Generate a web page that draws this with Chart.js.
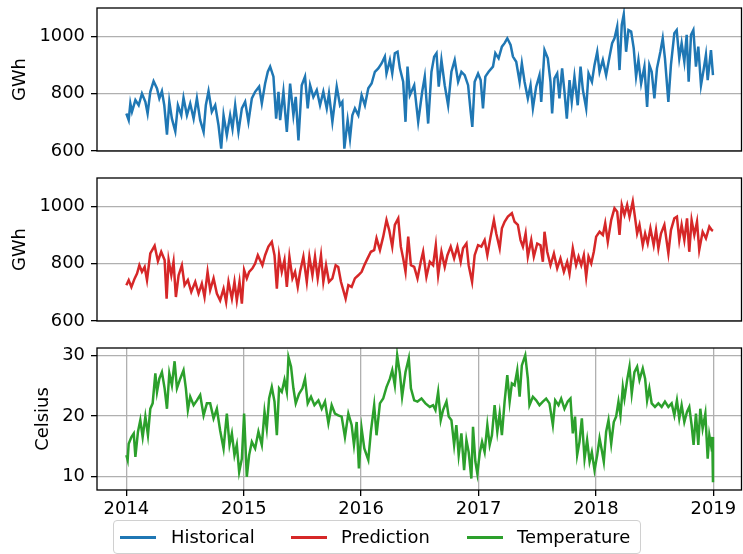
<!DOCTYPE html>
<html lang="en">
<head>
  <meta charset="UTF-8" />
  <title>Demand and temperature</title>
  <script src="https://cdn.jsdelivr.net/npm/chart.js"></script>
  <style>
    body { margin: 0; background: #fff; font-family: "DejaVu Sans", sans-serif; }
    #wrap { position: relative; width: 743px; height: 554px; }
    #wrap canvas { position: absolute; left: 0; }
    #legend { position: absolute; left: 113px; top: 520px; width: 528px; height: 34px;
              box-sizing: border-box; border: 1px solid #d0d0d0; border-radius: 4px; }
    .swatch { position: absolute; top: 15px; width: 36px; height: 2.6px; }
    .ltext { position: absolute; top: 5px; font-size: 17.9px; line-height: 21px; color: #000; white-space: nowrap; }
  </style>
</head>
<body>
<div id="wrap">
  <canvas id="histChart" width="743" height="165" style="top:0"></canvas>
  <canvas id="predChart" width="743" height="165" style="top:170px"></canvas>
  <canvas id="tempChart" width="743" height="184" style="top:340px"></canvas>
  <div id="legend">
    <div class="swatch" style="left:6px;background:#1f77b4"></div><div class="ltext" style="left:57px">Historical</div>
    <div class="swatch" style="left:177px;background:#d62728"></div><div class="ltext" style="left:227px">Prediction</div>
    <div class="swatch" style="left:353px;background:#2ca02c"></div><div class="ltext" style="left:403px">Temperature</div>
  </div>
</div>

<script>
  // x values are years since 1 Jan 2014
  const yearTicks = [0, 1, 2, 3, 4, 5];
  const yearLabels = ['2014', '2015', '2016', '2017', '2018', '2019'];
  const gwhTicks = [600, 800, 1000];
  const tempTicks = [10, 20, 30];

  const histT = [0.000,0.020,0.034,0.048,0.077,0.105,0.133,0.162,0.181,0.204,0.232,0.261,0.281,0.303,0.323,0.346,0.366,0.388,0.417,0.439,
    0.468,0.487,0.516,0.544,0.573,0.601,0.629,0.658,0.677,0.700,0.728,0.757,0.785,0.808,0.828,0.856,0.884,0.904,0.927,0.955,
    0.984,1.012,1.040,1.069,1.097,1.131,1.154,1.182,1.205,1.225,1.253,1.276,1.296,1.310,1.338,1.367,1.395,1.423,1.443,1.466,
    1.494,1.522,1.545,1.565,1.593,1.622,1.650,1.678,1.707,1.726,1.755,1.792,1.820,1.840,1.857,1.885,1.905,1.925,1.947,1.976,
    2.004,2.032,2.061,2.089,2.117,2.146,2.174,2.202,2.216,2.245,2.265,2.287,2.310,2.330,2.358,2.378,2.395,2.415,2.452,2.486,
    2.520,2.542,2.571,2.599,2.622,2.642,2.661,2.684,2.712,2.741,2.769,2.797,2.826,2.854,2.882,2.911,2.933,2.947,2.967,2.996,
    3.018,3.038,3.058,3.086,3.123,3.143,3.171,3.199,3.222,3.245,3.273,3.293,3.321,3.350,3.369,3.392,3.420,3.443,3.463,3.491,
    3.519,3.534,3.562,3.590,3.613,3.627,3.647,3.670,3.689,3.712,3.732,3.752,3.775,3.794,3.817,3.845,3.869,3.889,3.917,3.937,
    3.966,3.988,4.011,4.031,4.059,4.087,4.116,4.138,4.158,4.181,4.201,4.220,4.237,4.257,4.277,4.300,4.322,4.342,4.362,4.385,
    4.413,4.436,4.455,4.475,4.498,4.520,4.549,4.569,4.588,4.617,4.639,4.668,4.688,4.710,4.730,4.753,4.773,4.790,4.810,4.830,
    4.852,4.872,4.895,4.917,4.937,4.952,4.980,4.997];
  const histV = [731,708,766,737,778,760,801,772,731,807,844,819,784,809,760,657,772,713,669,760,
    725,786,725,766,713,784,708,667,760,809,737,760,690,608,725,655,725,678,760,667,
    749,772,702,784,807,825,766,836,877,895,860,713,807,708,807,667,836,725,789,637,
    830,860,749,830,789,813,760,807,749,801,702,825,760,772,608,708,643,725,749,725,
    795,760,819,836,877,889,906,930,871,918,871,942,947,889,842,702,895,795,830,702,
    807,860,696,877,930,942,825,918,830,760,877,918,842,877,865,830,737,684,842,871,
    848,749,860,877,895,942,924,965,977,994,971,930,912,842,906,842,784,830,749,825,
    865,772,953,924,842,731,854,871,784,889,807,713,848,772,860,760,895,813,749,871,
    842,901,947,877,918,865,930,977,994,1035,883,1041,1078,947,1023,1018,959,860,918,836,
    895,754,901,877,784,889,947,994,924,772,901,1012,1023,924,977,912,1006,842,1006,1023,
    895,965,830,883,936,848,953,865];

  const predT = [0.000,0.020,0.043,0.071,0.091,0.111,0.133,0.156,0.176,0.204,0.241,0.269,0.297,0.326,0.343,0.360,0.383,0.402,0.422,0.445,
    0.473,0.496,0.524,0.553,0.587,0.615,0.643,0.666,0.692,0.714,0.743,0.771,0.799,0.828,0.850,0.870,0.899,0.921,0.941,0.964,
    0.984,1.003,1.026,1.046,1.074,1.097,1.120,1.159,1.182,1.210,1.239,1.262,1.282,1.301,1.324,1.347,1.367,1.389,1.415,1.437,
    1.460,1.480,1.508,1.537,1.559,1.585,1.607,1.630,1.658,1.678,1.701,1.726,1.755,1.783,1.805,1.828,1.848,1.868,1.891,1.919,
    1.947,1.976,2.004,2.027,2.055,2.083,2.111,2.131,2.160,2.188,2.216,2.239,2.265,2.287,2.316,2.338,2.358,2.378,2.401,2.424,
    2.452,2.480,2.508,2.528,2.556,2.585,2.613,2.636,2.656,2.684,2.712,2.735,2.763,2.792,2.820,2.848,2.868,2.897,2.916,2.945,
    2.967,2.996,3.024,3.052,3.075,3.103,3.131,3.151,3.180,3.199,3.222,3.250,3.284,3.307,3.335,3.358,3.378,3.401,3.420,3.449,
    3.471,3.500,3.528,3.548,3.562,3.585,3.613,3.642,3.670,3.698,3.727,3.755,3.775,3.803,3.831,3.852,3.875,3.897,3.917,3.937,
    3.960,3.982,4.002,4.031,4.059,4.079,4.101,4.130,4.158,4.181,4.201,4.220,4.243,4.266,4.286,4.314,4.334,4.351,4.371,4.399,
    4.419,4.441,4.464,4.492,4.512,4.532,4.554,4.583,4.617,4.639,4.668,4.690,4.710,4.730,4.753,4.776,4.795,4.815,4.838,4.861,
    4.880,4.909,4.937,4.966,4.986,4.997];
  const predV = [725,743,719,749,766,795,772,789,743,836,863,809,842,813,678,813,760,807,684,760,
    795,725,743,702,737,696,731,684,772,708,749,696,672,713,667,737,678,737,672,737,
    661,778,749,772,784,801,830,795,830,860,877,830,713,830,772,813,719,825,749,772,
    719,772,825,737,825,760,825,749,830,737,795,737,749,795,789,737,708,678,725,719,
    749,760,772,795,819,842,848,889,848,895,953,918,860,936,959,860,819,772,895,795,
    789,749,807,842,754,807,795,865,760,842,789,830,860,819,860,807,854,871,795,737,
    830,865,860,883,830,895,953,906,854,924,947,965,977,947,936,883,860,906,825,883,
    825,871,865,807,912,842,795,836,784,819,772,807,766,854,795,825,795,830,754,825,
    801,842,895,912,901,942,877,953,994,982,901,1006,971,1006,965,1018,959,906,936,865,
    906,871,924,865,918,854,906,936,836,918,959,965,883,936,883,959,842,953,901,947,
    848,912,889,930,918,915];

  const tempT = [0.000,0.011,0.020,0.043,0.063,0.077,0.099,0.119,0.139,0.162,0.184,0.204,0.224,0.247,0.261,0.281,0.303,0.326,0.346,0.366,
    0.388,0.411,0.431,0.459,0.487,0.507,0.524,0.544,0.573,0.601,0.629,0.658,0.686,0.714,0.743,0.771,0.799,0.828,0.856,0.879,
    0.899,0.921,0.941,0.961,0.984,1.003,1.026,1.046,1.069,1.097,1.125,1.154,1.177,1.196,1.216,1.239,1.262,1.282,1.301,1.324,
    1.347,1.367,1.381,1.403,1.423,1.443,1.471,1.500,1.522,1.545,1.573,1.602,1.636,1.664,1.692,1.721,1.749,1.777,1.805,1.834,
    1.862,1.891,1.919,1.939,1.962,1.981,2.004,2.027,2.061,2.083,2.111,2.131,2.160,2.188,2.216,2.245,2.265,2.287,2.307,2.330,
    2.349,2.378,2.406,2.424,2.452,2.480,2.514,2.548,2.585,2.613,2.633,2.656,2.678,2.698,2.727,2.746,2.769,2.792,2.811,2.831,
    2.854,2.877,2.897,2.916,2.939,2.953,2.973,2.990,3.010,3.030,3.052,3.075,3.095,3.114,3.137,3.160,3.180,3.199,3.222,3.245,
    3.265,3.284,3.307,3.330,3.350,3.369,3.398,3.420,3.434,3.463,3.491,3.519,3.548,3.576,3.604,3.633,3.653,3.681,3.704,3.732,
    3.760,3.783,3.803,3.822,3.840,3.860,3.880,3.903,3.925,3.946,3.965,3.988,4.011,4.031,4.050,4.067,4.087,4.107,4.130,4.152,
    4.172,4.192,4.209,4.229,4.243,4.266,4.286,4.305,4.328,4.351,4.371,4.399,4.419,4.436,4.455,4.475,4.503,4.532,4.560,4.588,
    4.617,4.645,4.668,4.690,4.710,4.730,4.753,4.776,4.795,4.815,4.832,4.852,4.872,4.889,4.909,4.932,4.952,4.966,4.980,4.991,
    4.997];
  const tempV = [13.5,12.7,15.4,16.5,17.1,13.2,17.4,19.3,16.5,19.9,16.8,21.2,22.1,27.1,24.0,26.2,27.3,24.6,21.2,27.1,
    25.1,29.1,24.6,26.2,27.6,24.6,21.0,23.2,21.8,22.6,23.5,20.1,22.1,22.1,19.6,21.2,17.6,14.6,20.4,15.2,
    17.1,13.5,15.2,10.7,12.9,20.4,9.9,13.5,15.7,14.6,17.4,15.2,20.7,17.9,22.9,24.8,22.4,16.8,24.6,24.0,
    26.0,24.0,29.8,28.2,24.6,22.1,23.7,24.6,26.2,22.1,23.2,21.8,22.6,21.2,22.4,18.8,21.8,20.4,20.1,19.9,
    16.5,20.4,18.5,15.2,19.0,11.3,17.9,14.6,12.7,17.4,21.8,16.8,22.1,22.9,24.8,26.2,27.6,25.1,30.1,27.1,
    23.2,27.3,29.6,24.6,22.6,22.4,22.9,22.1,21.5,21.8,21.0,24.0,19.3,21.0,22.4,19.9,19.3,15.2,18.5,13.5,
    17.1,11.0,16.0,14.0,9.6,18.2,12.4,10.4,13.8,15.7,14.0,18.5,15.2,16.8,21.8,17.4,20.4,16.8,22.4,26.8,
    22.4,25.4,25.1,27.6,23.2,28.4,30.1,26.2,21.8,23.2,22.6,21.8,22.4,22.9,22.1,18.5,22.6,21.8,22.9,21.2,
    22.4,22.9,17.1,19.9,13.5,15.7,19.6,12.9,16.0,12.4,14.0,11.0,13.5,16.3,14.3,12.4,17.4,19.3,15.4,19.0,
    19.9,22.4,20.1,24.8,22.9,26.0,28.2,23.7,27.3,28.2,26.0,27.9,26.2,22.6,24.6,22.1,21.5,22.1,21.5,22.4,
    21.5,22.1,20.1,22.6,19.6,21.8,19.0,20.7,21.5,18.5,15.2,20.4,15.2,21.2,17.9,20.4,12.9,16.8,15.2,16.5,
    9.0];

  const font = { family: 'DejaVu Sans', size: 17.9 };
  const gridStyle = { color: '#b0b0b0', lineWidth: 1.3, tickColor: '#000', tickWidth: 1.3, tickLength: 6 };

  // matplotlib-like box around each plot area
  const frame = {
    id: 'frame',
    afterDraw(chart) {
      const { ctx, chartArea: a } = chart;
      ctx.save();
      ctx.strokeStyle = '#000';
      ctx.lineWidth = 1.3;
      ctx.strokeRect(a.left, a.top, a.right - a.left, a.bottom - a.top);
      ctx.restore();
    }
  };

  function makeChart(id, t, v, color, yTitle, titlePad, yMin, yMax, yTicks, showX, padBottom) {
    const xScale = {
      type: 'linear', min: -0.25, max: 5.24, display: showX,
      afterBuildTicks: s => { s.ticks = yearTicks.map(y => ({ value: y })); },
      afterFit: s => {
        if (showX) s.height = 34;
        s.paddingLeft = 0; s.paddingRight = 0;
      },
      ticks: {
        autoSkip: false, maxRotation: 0, color: '#000', font, padding: 3,
        callback: val => yearLabels[yearTicks.indexOf(val)]
      },
      grid: gridStyle,
      border: { display: false }
    };
    return new Chart(document.getElementById(id), {
      type: 'line',
      data: {
        datasets: [{
          data: t.map((x, i) => ({ x, y: v[i] })),
          borderColor: color,
          borderWidth: 2.5,
          pointRadius: 0,
          tension: 0,
          fill: false
        }]
      },
      options: {
        responsive: false,
        animation: false,
        events: [],
        layout: { padding: { left: 0, right: 1.5, top: 8, bottom: padBottom } },
        plugins: { legend: { display: false }, tooltip: { enabled: false } },
        scales: {
          x: xScale,
          y: {
            min: yMin, max: yMax,
            afterBuildTicks: s => { s.ticks = yTicks.map(y => ({ value: y })); },
            afterFit: s => { s.width = 97; s.paddingTop = 0; s.paddingBottom = 0; },
            ticks: { color: '#000', font, padding: 6, callback: val => String(val) },
            grid: gridStyle,
            border: { display: false },
            title: { display: true, text: yTitle, color: '#000', font, padding: { top: titlePad, bottom: 0 } }
          }
        }
      },
      plugins: [frame]
    });
  }

  makeChart('histChart', histT, histV, '#1f77b4', 'GWh', 10, 600, 1100, gwhTicks, false, 14);
  makeChart('predChart', predT, predV, '#d62728', 'GWh', 10, 600, 1100, gwhTicks, false, 14);
  makeChart('tempChart', tempT, tempV, '#2ca02c', 'Celsius', 33, 7.7, 31.3, tempTicks, true, 0);
</script>
</body>
</html>
